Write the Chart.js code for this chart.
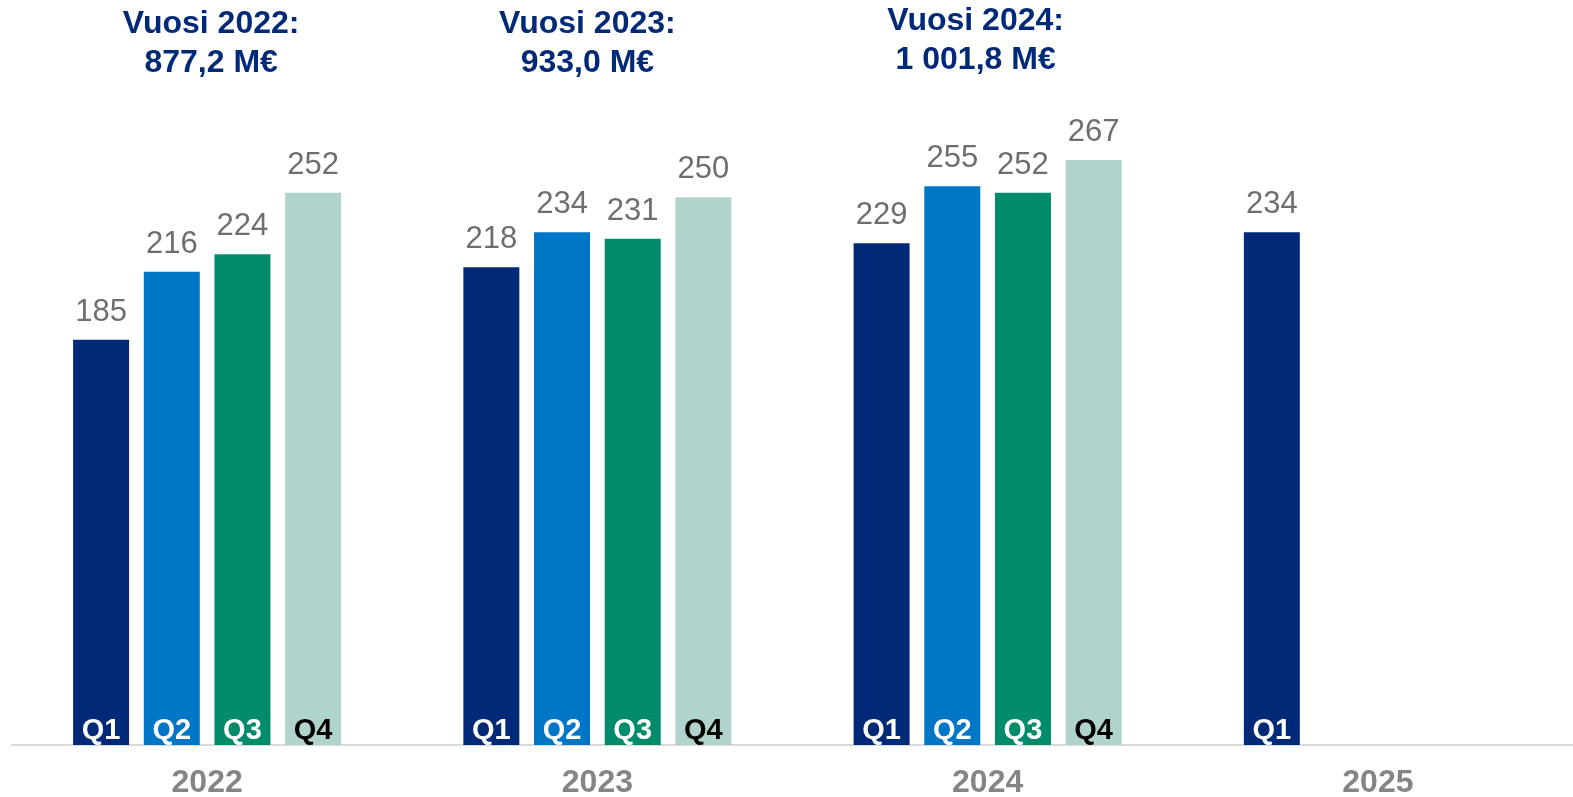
<!DOCTYPE html>
<html>
<head>
<meta charset="utf-8">
<script src="https://cdn.jsdelivr.net/npm/chart.js@4.4.1/dist/chart.umd.min.js"></script>
<style>
html,body{margin:0;padding:0;background:#fff;}
#wrap{width:1573px;height:797px;position:relative;}
</style>
</head>
<body>
<div id="wrap"><canvas id="c"></canvas></div>
<script>
const categories = ['2022', '2023', '2024', '2025'];
const quarterNames = ['Q1', 'Q2', 'Q3', 'Q4'];
const q1Values = [185, 218, 229, 234];
const q2Values = [216, 234, 255, null];
const q3Values = [224, 231, 252, null];
const q4Values = [252, 250, 267, null];
const yearTitles = ['Vuosi 2022:', 'Vuosi 2023:', 'Vuosi 2024:'];
const yearTotals = ['877,2 M€', '933,0 M€', '1 001,8 M€'];

const FONT = '"Liberation Sans", Arial, sans-serif';
const colors = ['#002A78', '#0076C6', '#008B6B', '#B1D3CD'];
const qTextColors = ['#ffffff', '#ffffff', '#ffffff', '#000000'];

const seriesValues = [q1Values, q2Values, q3Values, q4Values];

const labelPlugin = {
  id: 'labels',
  afterDatasetsDraw(chart) {
    const ctx = chart.ctx;
    ctx.save();
    ctx.textAlign = 'center';
    ctx.textBaseline = 'alphabetic';
    chart.data.datasets.forEach((ds, di) => {
      const meta = chart.getDatasetMeta(di);
      meta.data.forEach((bar, i) => {
        const v = ds.data[i];
        if (v === null || v === undefined) return;
        ctx.font = '31px ' + FONT;
        ctx.fillStyle = '#6E6E6E';
        ctx.fillText(String(v), bar.x, bar.y - 19);
        ctx.font = 'bold 29px ' + FONT;
        ctx.fillStyle = qTextColors[di];
        ctx.fillText(quarterNames[di], bar.x, bar.base - 6);
      });
    });
    const xs = chart.scales.x;
    const offs = [[4, 0], [-10, 0], [-12, -3]];
    ctx.font = 'bold 32px ' + FONT;
    ctx.fillStyle = '#002A78';
    yearTitles.forEach((t, i) => {
      const cx = xs.getPixelForValue(i) + offs[i][0];
      ctx.fillText(t, cx, 33 + offs[i][1]);
      ctx.fillText(yearTotals[i], cx, 72 + offs[i][1]);
    });
    ctx.restore();
  }
};

new Chart(document.getElementById('c'), {
  type: 'bar',
  data: {
    labels: categories,
    datasets: quarterNames.map((q, i) => ({
      label: q,
      data: seriesValues[i],
      backgroundColor: colors[i],
      borderWidth: 0,
      categoryPercentage: 0.7245,
      barPercentage: 0.792
    }))
  },
  options: {
    responsive: true,
    maintainAspectRatio: false,
    animation: false,
    layout: { padding: { left: 12, right: 0, top: 0, bottom: -24 } },
    plugins: { legend: { display: false }, tooltip: { enabled: false } },
    scales: {
      x: {
        grid: { display: false, drawTicks: false },
        border: { display: true, color: '#D9D9D9', width: 2 },
        ticks: {
          color: '#858585',
          padding: 22,
          font: { family: FONT, size: 32, weight: 'bold', lineHeight: 1 }
        }
      },
      y: {
        display: false,
        min: 0,
        max: 340
      }
    }
  },
  plugins: [labelPlugin]
});
</script>
</body>
</html>
